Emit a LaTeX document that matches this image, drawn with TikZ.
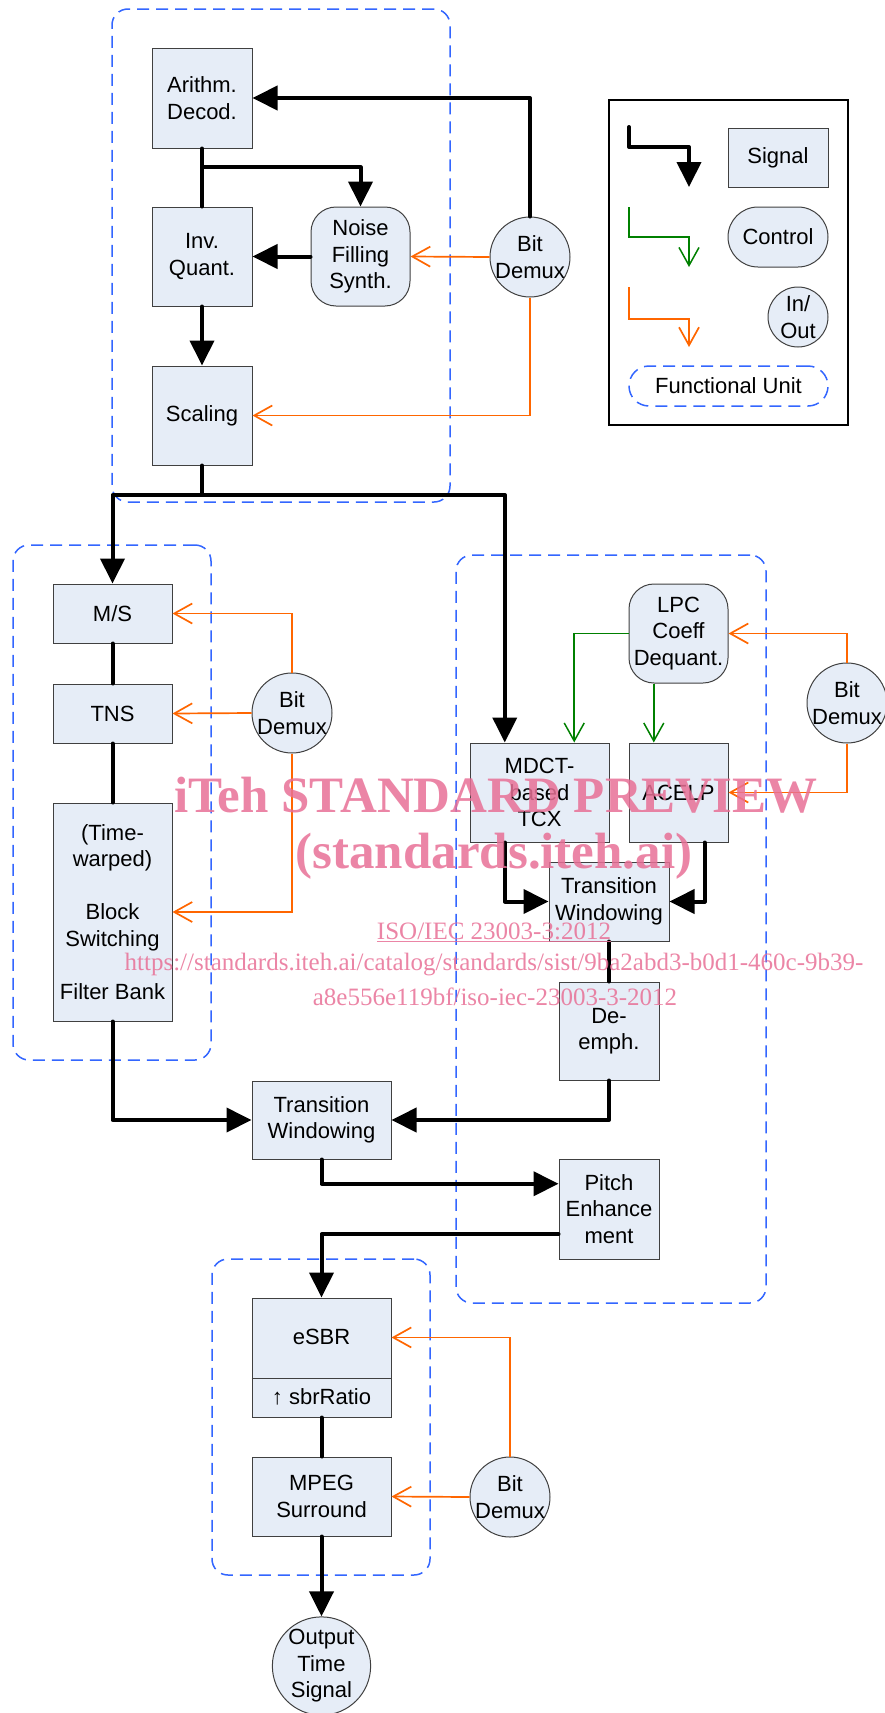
\documentclass[tikz,border=0pt]{standalone}
\usepackage{fontspec}
\setmainfont{Liberation Sans}
\newfontfamily\wmfont{Liberation Serif}
\usetikzlibrary{arrows.meta,calc}
\definecolor{boxfill}{RGB}{230,237,247}
\definecolor{datorange}{RGB}{255,102,0}
\definecolor{ctlgreen}{RGB}{0,128,0}
\definecolor{unitblue}{RGB}{51,102,255}
\definecolor{wmpink}{RGB}{232,112,150}
\newcommand{\fs}{\fontsize{22}{26.5}\selectfont}
\newcommand{\wmbig}{\wmfont\bfseries\fontsize{51}{51}\selectfont}
\newcommand{\wmsmall}{\wmfont\fontsize{25}{25}\selectfont}
\begin{document}
\begin{tikzpicture}[x=1pt,y=-1pt,
  box/.style={draw=black!75, line width=1pt, fill=boxfill, rectangle, inner sep=0pt, align=center, font=\fs},
  rbox/.style={box, rounded corners=25pt},
  io/.style={box, circle, inner sep=-2pt},
  sig/.style={line width=4pt, line cap=round, line join=round, -{Triangle[length=25pt,width=24pt]}},
  sigline/.style={line width=4pt, line cap=round, line join=round},
  ctl/.style={draw=ctlgreen, line width=1.5pt, -{Straight Barb[length=18pt,width=20pt]}},
  dat/.style={draw=datorange, line width=1.7pt, -{Straight Barb[length=18pt,width=20pt]}},
  unit/.style={draw=unitblue, line width=1.5pt, dash pattern=on 12pt off 7pt, rounded corners=16pt, inner sep=0pt},
  wm/.style={text=wmpink, text opacity=0.85, inner sep=0pt},
  lbl/.style={font=\fs, inner sep=0pt}
]
\useasboundingbox (0,0) rectangle (885,1713);

% functional units
\node[unit, minimum width=338pt, minimum height=493pt] (u1) at (281,255.5) {};
\node[unit, minimum width=198pt, minimum height=515pt] (u2) at (112,802.5) {};
\node[unit, minimum width=310pt, minimum height=748pt] (u3) at (611,929) {};
\node[unit, minimum width=218pt, minimum height=316pt] (u4) at (321,1417) {};

% legend
\node[draw=black, line width=1.5pt, minimum width=239pt, minimum height=325pt, inner sep=0pt] (leg) at (728.5,262.5) {};
\node[box, minimum width=100pt, minimum height=59pt] (lsig) at (778,157.5) {Signal};
\node[box, rounded corners=30pt, minimum width=100pt, minimum height=60pt] (lctl) at (778,237) {Control};
\node[io, inner sep=0pt, minimum size=60pt] (lio) at (798,317) {In/\\Out};
\node[unit, minimum width=199pt, minimum height=40pt, rounded corners=20pt, font=\fs] (lfu) at (728.5,386) {Functional Unit};
\coordinate (la1) at (629,127); \coordinate (la2) at (689,187);
\draw[sig] (la1) -- ++(0,20) -| (la2);
\coordinate (lb1) at (629,207); \coordinate (lb2) at (689,267);
\draw[ctl] (lb1) -- ++(0,30) -| (lb2);
\coordinate (lc1) at (629,287); \coordinate (lc2) at (689,347);
\draw[dat] (lc1) -- ++(0,32) -| (lc2);

% top unit
\node[box, minimum width=100pt, minimum height=100pt] (arith) at (202,98) {Arithm.\\Decod.};
\node[box, minimum width=100pt, minimum height=99pt] (invq) at (202,256.5) {Inv.\\Quant.};
\node[box, minimum width=100pt, minimum height=99pt] (scal) at (202,415.5) {Scaling};
\node[rbox, minimum width=99pt, minimum height=99pt] (noise) at (360.5,256.5) {Noise\\Filling\\Synth.};
\node[io, minimum size=80pt] (bd1) at (530,257) {Bit\\Demux};

% left unit
\node[box, minimum width=119pt, minimum height=59pt] (ms) at (112.5,613.5) {M/S};
\node[box, minimum width=119pt, minimum height=59pt] (tns) at (112.5,713.5) {TNS};
\node[box, minimum width=119pt, minimum height=218pt] (fb) at (112.5,912) {(Time-\\warped)\\[26.5pt]Block\\Switching\\[26.5pt]Filter Bank};
\node[io, minimum size=80pt] (bd2) at (292,713) {Bit\\Demux};

% right unit
\node[rbox, minimum width=99pt, minimum height=99pt] (lpc) at (678.5,633.5) {LPC\\Coeff\\Dequant.};
\node[box, minimum width=139pt, minimum height=99pt] (mdct) at (539.5,792.5) {MDCT-\\based\\TCX};
\node[box, minimum width=99pt, minimum height=99pt] (acelp) at (678.5,792.5) {ACELP};
\node[box, minimum width=120pt, minimum height=79pt] (tw1) at (609,901.5) {Transition\\Windowing};
\node[box, minimum width=100pt, minimum height=98pt] (deemph) at (609,1031) {De-\\emph.};
\node[io, minimum size=80pt] (bd3) at (847,703) {Bit\\Demux};

% lower part
\node[box, minimum width=139pt, minimum height=78pt] (tw2) at (321.5,1120) {Transition\\Windowing};
\node[box, minimum width=100pt, minimum height=100pt] (pitch) at (609,1209) {Pitch\\Enhance\\ment};
\node[box, minimum width=139pt, minimum height=119pt] (esbr) at (321.5,1357.5) {};
\draw[black!75, line width=1pt] ($(esbr.north west)!0.672!(esbr.south west)$) -- ($(esbr.north east)!0.672!(esbr.south east)$);
\node[lbl] (esbrt) at (321.5,1337) {eSBR};
\node[lbl] (sbrr) at (321.5,1397) {↑ sbrRatio};
\node[box, minimum width=139pt, minimum height=79pt] (mpeg) at (321.5,1496.5) {MPEG\\Surround};
\node[io, minimum size=80pt] (bd4) at (510,1497) {Bit\\Demux};
\node[io, inner sep=0pt, minimum size=98pt] (out) at (321.5,1666) {Output\\Time\\Signal};

% connectors: top unit
\draw[sig] (bd1.north) |- (arith.east);
\draw[sigline] (arith.south) -- (invq.north);
\coordinate (b1) at ($(arith.south)!0.322!(invq.north)$);
\draw[sig] (b1) -| (noise.north);
\draw[sig] (noise.west) -- (invq.east);
\draw[sig] (invq.south) -- (scal.north);
\draw[dat] (bd1.west) -- (noise.east);
\draw[dat] (bd1.south) |- (scal.east);

% split
\coordinate (jL) at (112.5,495);
\coordinate (mdin) at ($(mdct.north west)!0.252!(mdct.north east)$);
\draw[sig] (scal.south) |- (jL) -- (ms.north);
\draw[sig] (scal.south |- jL) -| (mdin);

% left unit
\draw[sigline] (ms.south) -- (tns.north);
\draw[sigline] (tns.south) -- (fb.north);
\draw[dat] (bd2.north) |- (ms.east);
\draw[dat] (bd2.west) -- (tns.east);
\draw[dat] (bd2.south) |- (fb.east);

% right unit
\coordinate (g1) at ($(mdct.north west)!0.748!(mdct.north east)$);
\draw[ctl] (lpc.west) -| (g1);
\coordinate (g2) at ($(acelp.north west)!0.253!(acelp.north east)$);
\draw[ctl] (g2 |- lpc.south) -- (g2);
\draw[dat] (bd3.north) |- (lpc.east);
\draw[dat] (bd3.south) |- (acelp.east);
\coordinate (mdout) at ($(mdct.south west)!0.252!(mdct.south east)$);
\draw[sig] (mdout) |- (tw1.west);
\coordinate (acout) at ($(acelp.south west)!0.76!(acelp.south east)$);
\draw[sig] (acout) |- (tw1.east);
\draw[sigline] (tw1.south) -- (deemph.north);

% lower
\draw[sig] (fb.south) |- (tw2.west);
\draw[sig] (deemph.south) |- (tw2.east);
\coordinate (pin) at ($(pitch.north west)!0.25!(pitch.south west)$);
\draw[sig] (tw2.south) |- (pin);
\coordinate (pout) at ($(pitch.north west)!0.75!(pitch.south west)$);
\draw[sig] (pout) -| (esbr.north);
\draw[sigline] (esbr.south) -- (mpeg.north);
\draw[sig] (mpeg.south) -- (out.north);
\coordinate (ein) at ($(esbr.north east)!0.333!(esbr.south east)$);
\draw[dat] (bd4.north) |- (ein);
\draw[dat] (bd4.west) -- (mpeg.east);

% watermark
\node[wm, font=\wmbig] (wm1) at (496,795) {iTeh STANDARD PREVIEW};
\node[wm, font=\wmbig] (wm2) at (494,856) {(standards.iteh.ai)};
\node[wm, font=\wmsmall] (wm3) at (494,932) {\underline{ISO/IEC 23003-3:2012}};
\node[wm, font=\wmsmall] (wm4) at (494,965) {https://standards.iteh.ai/catalog/standards/sist/9ba2abd3-b0d1-460c-9b39-};
\node[wm, font=\wmsmall] (wm5) at (495,997) {a8e556e119bf/iso-iec-23003-3-2012};
\end{tikzpicture}
\end{document}
